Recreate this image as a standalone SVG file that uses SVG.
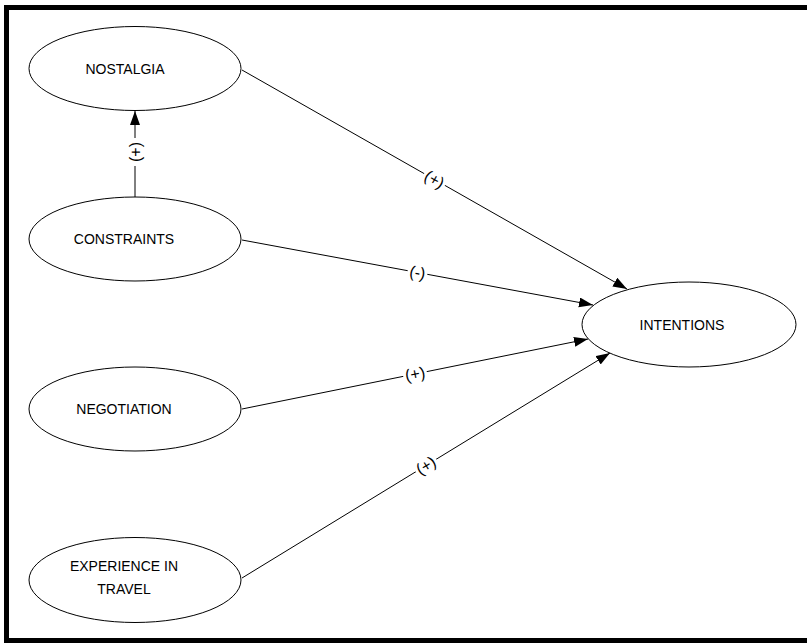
<svg xmlns="http://www.w3.org/2000/svg" width="807" height="643" viewBox="0 0 807 643">
<style>
.node ellipse{fill:#fff;stroke:#000;stroke-width:1}
.node text{font-family:"Liberation Sans",Arial,sans-serif;font-size:14px;fill:#000;text-anchor:middle}
.edge line{stroke:#000;stroke-width:1;marker-end:url(#arr)}
.lbl rect{fill:#fff}
.lbl text{font-family:"Liberation Sans",Arial,sans-serif;font-size:16px;fill:#000;text-anchor:middle}
</style>
<defs>
<marker id="arr" markerUnits="userSpaceOnUse" markerWidth="15" markerHeight="11" refX="14" refY="5" orient="auto">
<path d="M0,0 L14,5 L0,10 z" fill="#000"/>
</marker>
</defs>
<rect x="0" y="0" width="807" height="643" fill="#fff"/>
<rect x="6.5" y="7.5" width="805" height="633" fill="none" stroke="#000" stroke-width="5"/>
<g id="connectors">
<g class="edge">
<line x1="242" y1="70" x2="627" y2="289"/>
<line x1="242" y1="240" x2="593" y2="305"/>
<line x1="242" y1="409" x2="588" y2="339"/>
<line x1="242" y1="578" x2="610" y2="353"/>
<line x1="135" y1="197" x2="135" y2="111"/>
</g>
<g class="lbl" transform="translate(434.5,179.5) rotate(29.6)"><rect x="-12" y="-9" width="24" height="18"/><text y="5.5">(+)</text></g>
<g class="lbl" transform="translate(417.5,272.5) rotate(10.5)"><rect x="-10" y="-9" width="20" height="18"/><text y="5.5">(-)</text></g>
<g class="lbl" transform="translate(415,374) rotate(-11.4)"><rect x="-12" y="-9" width="24" height="18"/><text y="5.5">(+)</text></g>
<g class="lbl" transform="translate(426,465.5) rotate(-31.4)"><rect x="-12" y="-9" width="24" height="18"/><text y="5.5">(+)</text></g>
<g class="lbl" transform="translate(135,152) rotate(-90)"><rect x="-14" y="-9" width="28" height="18"/><text y="5.5">(+)</text></g>
</g>
<g id="nostalgia" class="node"><ellipse cx="135" cy="68.5" rx="106" ry="42"/><text x="125" y="73.5">NOSTALGIA</text></g>
<g id="constraints" class="node"><ellipse cx="135" cy="239" rx="106" ry="42"/><text x="124" y="244">CONSTRAINTS</text></g>
<g id="negotiation" class="node"><ellipse cx="135" cy="409" rx="106" ry="42"/><text x="124" y="414">NEGOTIATION</text></g>
<g id="experience" class="node"><ellipse cx="135" cy="580" rx="106" ry="42.5"/><text x="124" y="571">EXPERIENCE IN</text><text x="124" y="594">TRAVEL</text></g>
<g id="intentions" class="node"><ellipse cx="689" cy="324.5" rx="107" ry="42.5"/><text x="682" y="329.5">INTENTIONS</text></g>
</svg>
